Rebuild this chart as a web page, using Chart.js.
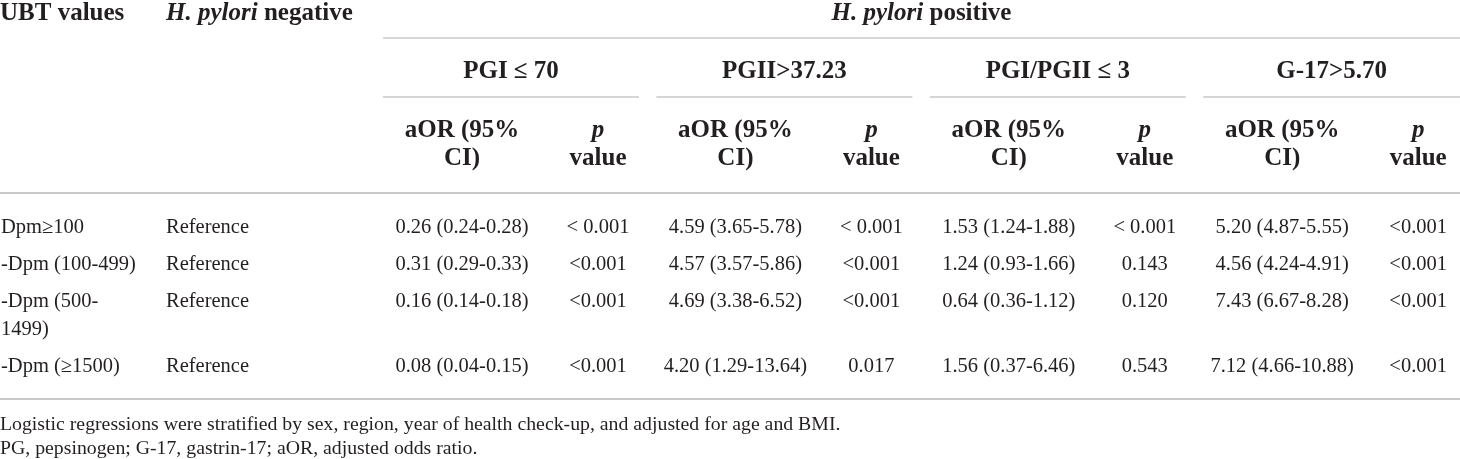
<!DOCTYPE html>
<html>
<head>
<meta charset="utf-8">
<script src="https://cdn.jsdelivr.net/npm/chart.js@4"></script>
<style>
  html, body { margin: 0; padding: 0; background: #fff; }
  #wrap { width: 1460px; height: 459px; }
</style>
</head>
<body>
<div id="wrap"><canvas id="table-chart" width="1460" height="459"></canvas></div>
<script>
// rows of the table
const ubtValues = ["Dpm≥100", "-Dpm (100-499)", "-Dpm (500-1499)", "-Dpm (≥1500)"];
const negativeValues = ["Reference", "Reference", "Reference", "Reference"];

// H. pylori positive groups
const groupLabels = ["PGI ≤ 70", "PGII>37.23", "PGI/PGII ≤ 3", "G-17>5.70"];

const pgiOr = [0.26, 0.31, 0.16, 0.08];
const pgiLow = [0.24, 0.29, 0.14, 0.04];
const pgiHigh = [0.28, 0.33, 0.18, 0.15];
const pgiP = ["< 0.001", "<0.001", "<0.001", "<0.001"];

const pgiiOr = [4.59, 4.57, 4.69, 4.20];
const pgiiLow = [3.65, 3.57, 3.38, 1.29];
const pgiiHigh = [5.78, 5.86, 6.52, 13.64];
const pgiiP = ["< 0.001", "<0.001", "<0.001", "0.017"];

const ratioOr = [1.53, 1.24, 0.64, 1.56];
const ratioLow = [1.24, 0.93, 0.36, 0.37];
const ratioHigh = [1.88, 1.66, 1.12, 6.46];
const ratioP = ["< 0.001", "0.143", "0.120", "0.543"];

const g17Or = [5.20, 4.56, 7.43, 7.12];
const g17Low = [4.87, 4.24, 6.67, 4.66];
const g17High = [5.55, 4.91, 8.28, 10.88];
const g17P = ["<0.001", "<0.001", "<0.001", "<0.001"];

const footnotes = [
    "Logistic regressions were stratified by sex, region, year of health check-up, and adjusted for age and BMI.",
    "PG, pepsinogen; G-17, gastrin-17; aOR, adjusted odds ratio."
];

// layout (in scale units, the scales run 0..1460 and 0..459)
const groups = [
    { or: pgiOr, low: pgiLow, high: pgiHigh, p: pgiP },
    { or: pgiiOr, low: pgiiLow, high: pgiiHigh, p: pgiiP },
    { or: ratioOr, low: ratioLow, high: ratioHigh, p: ratioP },
    { or: g17Or, low: g17Low, high: g17High, p: g17P },
];
const groupStart = 383;
const groupStep = 273.4;
const groupRule = 256;
const rowBase = [233, 270, 307, 372];
const wrapGap = 28;
const ubtColWidth = 137;

const BODY = "20.5px 'Liberation Serif', 'Times New Roman', serif";
const NOTE = "19.8px 'Liberation Serif', 'Times New Roman', serif";
const HEAD = "bold 25px 'Liberation Serif', 'Times New Roman', serif";
const HEAD_IT = "italic bold 25px 'Liberation Serif', 'Times New Roman', serif";
const TEXT = "#231f20";
const RULE = "#c9c9c9";

const fmt = (v) => v.toFixed(2);

const tablePlugin = {
    id: "tablePlugin",
    afterDraw(chart) {
        const { ctx, scales: { x, y } } = chart;
        const px = (v) => x.getPixelForValue(v);
        const py = (v) => y.getPixelForValue(v);

        ctx.save();
        ctx.textBaseline = "alphabetic";
        ctx.fillStyle = TEXT;

        // runs: [[text, font], ...] drawn one after the other
        const runs = (parts, xv, yv, align) => {
            let total = 0;
            parts.forEach((p) => {
                ctx.font = p[1];
                total += ctx.measureText(p[0]).width;
            });
            let cx = px(xv);
            if (align === "center") cx -= total / 2;
            ctx.textAlign = "left";
            parts.forEach((p) => {
                ctx.font = p[1];
                ctx.fillText(p[0], cx, py(yv));
                cx += ctx.measureText(p[0]).width;
            });
        };

        const rule = (x0, x1, yv, w) => {
            ctx.strokeStyle = RULE;
            ctx.lineWidth = w;
            ctx.beginPath();
            ctx.moveTo(px(x0), py(yv));
            ctx.lineTo(px(x1), py(yv));
            ctx.stroke();
        };

        // header row 1
        runs([["UBT values", HEAD]], 0, 20, "left");
        runs([["H. pylori", HEAD_IT], [" negative", HEAD]], 166, 20, "left");
        runs([["H. pylori", HEAD_IT], [" positive", HEAD]], (groupStart + 1460) / 2, 20, "center");
        rule(groupStart, 1460, 38, 1.6);

        // group headers and sub headers
        groupLabels.forEach((label, i) => {
            const g0 = groupStart + i * groupStep;
            const g1 = i === groupLabels.length - 1 ? 1460 : g0 + groupRule;
            runs([[label, HEAD]], (g0 + g1) / 2, 78, "center");
            rule(g0, g1, 97, 1.6);
            runs([["aOR (95%", HEAD]], g0 + 79, 137, "center");
            runs([["CI)", HEAD]], g0 + 79, 165, "center");
            runs([["p", HEAD_IT]], g0 + 215, 137, "center");
            runs([["value", HEAD]], g0 + 215, 165, "center");
        });
        rule(0, 1460, 193, 2);

        // body rows
        ubtValues.forEach((label, r) => {
            ctx.font = BODY;
            let lines = [label];
            if (ctx.measureText(label).width > ubtColWidth + 3) {
                const cut = label.lastIndexOf("-") + 1;
                lines = [label.slice(0, cut), label.slice(cut)];
            }
            lines.forEach((ln, k) => runs([[ln, BODY]], 1, rowBase[r] + k * wrapGap, "left"));
            runs([[negativeValues[r], BODY]], 166, rowBase[r], "left");

            groups.forEach((g, i) => {
                const g0 = groupStart + i * groupStep;
                const cell = fmt(g.or[r]) + " (" + fmt(g.low[r]) + "-" + fmt(g.high[r]) + ")";
                runs([[cell, BODY]], g0 + 79, rowBase[r], "center");
                runs([[g.p[r], BODY]], g0 + 215, rowBase[r], "center");
            });
        });
        rule(0, 1460, 399, 2);

        // notes
        runs([[footnotes[0], NOTE]], 0, 430, "left");
        runs([[footnotes[1], NOTE]], 0, 454, "left");
        ctx.restore();
    }
};

new Chart(document.getElementById("table-chart"), {
    type: "scatter",
    data: { datasets: [] },
    options: {
        responsive: false,
        animation: false,
        layout: { padding: 0 },
        scales: {
            x: { type: "linear", min: 0, max: 1460, display: false },
            y: { type: "linear", min: 0, max: 459, reverse: true, display: false },
        },
        plugins: {
            legend: { display: false },
            tooltip: { enabled: false },
        },
    },
    plugins: [tablePlugin],
});
</script>
</body>
</html>
